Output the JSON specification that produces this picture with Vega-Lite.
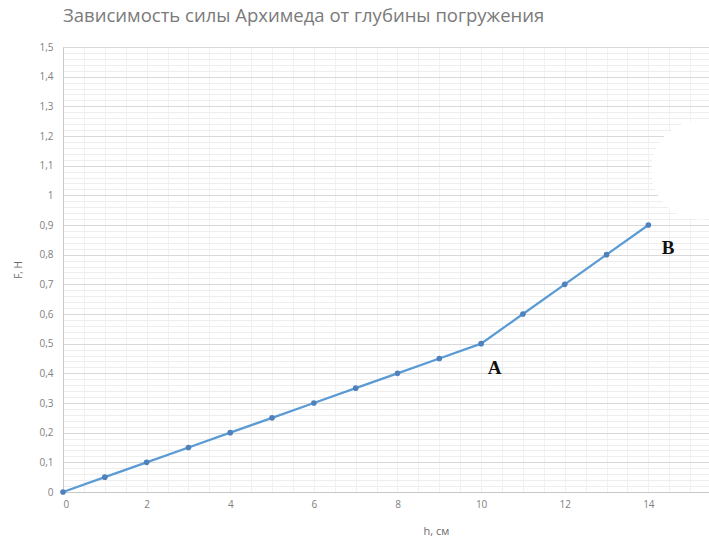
{
  "$schema": "https://vega.github.io/schema/vega-lite/v6.json",
  "autosize": "none",
  "padding": {"left": 63, "top": 47, "right": 0, "bottom": 45},
  "width": 646,
  "height": 445,
  "background": "white",
  "title": {
    "text": "Зависимость силы Архимеда от глубины погружения",
    "anchor": "start",
    "frame": "group",
    "font": "Open Sans",
    "fontSize": 18.5,
    "fontWeight": "normal",
    "color": "#7a7a7a",
    "offset": 17
  },
  "config": {
    "view": {"stroke": null},
    "axis": {"labelFont": "Open Sans", "titleFont": "Open Sans", "labelColor": "#808080", "titleColor": "#6b6b6b", "titleFontWeight": "normal"}
  },
  "datasets": {
    "points": [
      {"h": 0, "F": 0}, {"h": 1, "F": 0.05}, {"h": 2, "F": 0.1}, {"h": 3, "F": 0.15},
      {"h": 4, "F": 0.2}, {"h": 5, "F": 0.25}, {"h": 6, "F": 0.3}, {"h": 7, "F": 0.35},
      {"h": 8, "F": 0.4}, {"h": 9, "F": 0.45}, {"h": 10, "F": 0.5}, {"h": 11, "F": 0.6},
      {"h": 12, "F": 0.7}, {"h": 13, "F": 0.8}, {"h": 14, "F": 0.9}
    ],
    "labels": [
      {"h": 10.32, "F": 0.418, "label": "A"},
      {"h": 14.47, "F": 0.822, "label": "B"}
    ],
    "mask": [
      {"h": 15.25, "F": 1.085}
    ]
  },
  "layer": [
    {
      "data": {"name": "points"},
      "mark": {"type": "point", "opacity": 0},
      "encoding": {
        "x": {"field": "h", "type": "quantitative", "scale": {"domain": [0, 15.45], "nice": false, "zero": false},
          "axis": {"orient": "bottom", "values": [0,0.5,1,1.5,2,2.5,3,3.5,4,4.5,5,5.5,6,6.5,7,7.5,8,8.5,9,9.5,10,10.5,11,11.5,12,12.5,13,13.5,14,14.5,15], "grid": true, "gridColor": "#f1f1f1", "labels": false, "ticks": false, "domain": false, "title": null}},
        "y": {"field": "F", "type": "quantitative", "scale": {"domain": [0, 1.5], "nice": false},
          "axis": {"orient": "left", "values": [0,0.02,0.04,0.06,0.08,0.1,0.12,0.14,0.16,0.18,0.2,0.22,0.24,0.26,0.28,0.3,0.32,0.34,0.36,0.38,0.4,0.42,0.44,0.46,0.48,0.5,0.52,0.54,0.56,0.58,0.6,0.62,0.64,0.66,0.68,0.7,0.72,0.74,0.76,0.78,0.8,0.82,0.84,0.86,0.88,0.9,0.92,0.94,0.96,0.98,1,1.02,1.04,1.06,1.08,1.1,1.12,1.14,1.16,1.18,1.2,1.22,1.24,1.26,1.28,1.3,1.32,1.34,1.36,1.38,1.4,1.42,1.44,1.46,1.48,1.5], "grid": true, "gridColor": "#eeeeee", "labels": false, "ticks": false, "domain": false, "title": null}}
      }
    },
    {
      "data": {"name": "points"},
      "mark": {"type": "line", "color": "#5b9bd5", "strokeWidth": 2.25, "point": {"filled": true, "size": 32, "color": "#4f81bd"}},
      "encoding": {
        "x": {"field": "h", "type": "quantitative",
          "axis": {"orient": "bottom", "values": [0,2,4,6,8,10,12,14], "grid": false, "ticks": false, "domainColor": "#c8c8c8", "labelFontSize": 10, "labelPadding": 7, "title": "h, см", "titleFontSize": 11, "titleX": 373, "titleY": 42, "titleBaseline": "alphabetic"}},
        "y": {"field": "F", "type": "quantitative",
          "axis": {"orient": "left", "values": [0,0.1,0.2,0.3,0.4,0.5,0.6,0.7,0.8,0.9,1,1.1,1.2,1.3,1.4,1.5], "grid": true, "gridColor": "#d9d9d9", "ticks": false, "domainColor": "#c8c8c8", "labelFontSize": 10, "labelPadding": 10, "labelExpr": "replace(format(datum.value, '.1~f'), '.', ',')", "title": "F, H", "titleFontSize": 10, "titleX": -40}}
      }
    },
    {
      "data": {"name": "labels"},
      "mark": {"type": "text", "font": "Liberation Serif", "fontWeight": "bold", "fontSize": 19, "color": "#111111"},
      "encoding": {
        "x": {"field": "h", "type": "quantitative", "axis": null},
        "y": {"field": "F", "type": "quantitative", "axis": null},
        "text": {"field": "label"}
      }
    },
    {
      "data": {"name": "mask"},
      "mark": {"type": "point", "shape": "circle", "filled": true, "color": "white", "opacity": 1, "size": 9800, "strokeWidth": 0},
      "encoding": {
        "x": {"field": "h", "type": "quantitative", "axis": null},
        "y": {"field": "F", "type": "quantitative", "axis": null}
      }
    }
  ],
  "resolve": {"axis": {"x": "independent", "y": "independent"}}
}
